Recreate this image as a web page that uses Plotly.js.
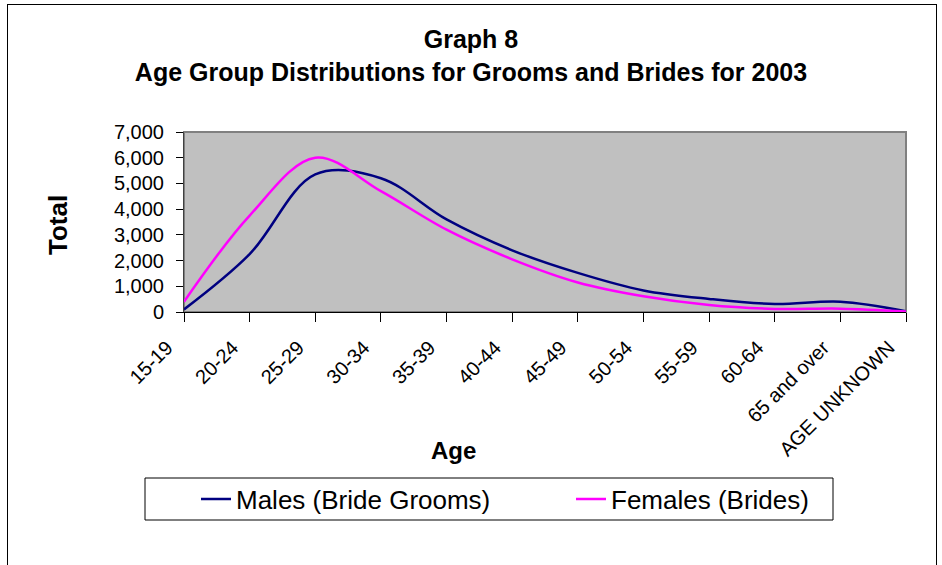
<!DOCTYPE html>
<html>
<head>
<meta charset="utf-8">
<script src="https://cdn.plot.ly/plotly-3.0.1.min.js"></script>
<style>
    body { margin: 0; background: #fff; }
    #frame { position: absolute; left: 7px; top: 4px; width: 928px; height: 600px; border: 1px solid #000; }
    #ageChart { position: absolute; left: 0; top: 0; width: 942px; height: 565px; }
</style>
</head>
<body>
<div id="frame"></div>
<div id="ageChart"></div>
<script>
// age groups and counts
const ageGroups = ['15-19','20-24','25-29','30-34','35-39','40-44','45-49','50-54','55-59','60-64','65 and over','AGE UNKNOWN'];
const males = [100, 2250, 5350, 5200, 3600, 2400, 1520, 840, 510, 310, 400, 30];
const females = [400, 3750, 6000, 4700, 3200, 2050, 1150, 610, 270, 120, 130, 20];

AGECHART = document.getElementById('ageChart');

// plot area in pixels: left 184, right 906, top 132, bottom 312
function px(x){ return (x - 184) / 722; }
function py(y){ return (312 - y) / 180; }

var maleTrace = {
    x: ageGroups,
    y: males,
    name: 'Males (Bride Grooms)',
    mode: 'lines',
    legend: 'legend',
    line: {
        color: '#000080',
        width: 2.5,
        shape: 'spline',
        smoothing: 1,
    }
};

var femaleTrace = {
    x: ageGroups,
    y: females,
    name: 'Females (Brides)',
    mode: 'lines',
    legend: 'legend2',
    line: {
        color: '#FF00FF',
        width: 2.5,
        shape: 'spline',
        smoothing: 1,
    }
};

// one legend per series so both entries sit where the original puts them
function legendAt(left){
    return {
        orientation: 'h',
        xref: 'container',
        x: left / 942,
        xanchor: 'left',
        yref: 'container',
        y: 1 - 499 / 565,
        yanchor: 'middle',
        font: {size: 26},
        bgcolor: 'rgba(0,0,0,0)',
        borderwidth: 0,
    };
}

var layout = {
    width: 942,
    height: 565,
    paper_bgcolor: 'rgba(0,0,0,0)',
    plot_bgcolor: '#C0C0C0',
    font: {
        family: 'Liberation Sans, Arial, sans-serif',
        color: '#000',
    },
    title: {
        text: '<b>Graph 8</b><br><b>Age Group Distributions for Grooms and Brides for 2003</b>',
        font: {size: 25},
        x: 0.5,
        xref: 'container',
        y: 1 - 48/565,
        yref: 'container',
        yanchor: 'middle',
    },
    margin: {l: 184, r: 36, t: 132, b: 253},
    xaxis: {
        type: 'category',
        range: [0, 11],
        tickangle: -45,
        tickfont: {size: 20},
        ticks: 'outside',
        ticklen: 9,
        tickcolor: '#000',
        ticklabelstandoff: 6,
        ticklabelshift: -17,
        showline: true,
        linecolor: '#000',
        linewidth: 1,
        showgrid: false,
        zeroline: false,
    },
    yaxis: {
        range: [0, 7000],
        dtick: 1000,
        tickformat: ',',
        tickfont: {size: 20},
        ticks: 'outside',
        ticklen: 7,
        tickcolor: '#000',
        ticklabelstandoff: 8,
        showline: true,
        linecolor: '#404040',
        showgrid: false,
        zeroline: false,
    },
    shapes: [{
        // grey border round the plot area
        type: 'rect',
        xref: 'paper', yref: 'paper',
        x0: 0, x1: 1, y0: 0, y1: 1,
        line: {color: '#808080', width: 2},
        layer: 'below',
    }, {
        // legend box
        type: 'rect',
        xref: 'paper', yref: 'paper',
        x0: px(145), x1: px(833), y0: py(478), y1: py(520),
        line: {color: '#000', width: 1},
        fillcolor: '#fff',
        layer: 'below',
    }],
    annotations: [{
        text: '<b>Total</b>',
        font: {size: 26},
        textangle: -90,
        xref: 'paper', yref: 'paper',
        x: px(58), y: py(225),
        showarrow: false,
        xanchor: 'center', yanchor: 'middle',
    }, {
        text: '<b>Age</b>',
        font: {size: 24},
        xref: 'paper', yref: 'paper',
        x: px(453), y: py(450),
        showarrow: false,
        xanchor: 'center', yanchor: 'middle',
    }],
    showlegend: true,
    legend: legendAt(196),
    legend2: legendAt(571),
};

var config = {
    displayModeBar: false,
    staticPlot: true,
};

Plotly.newPlot(AGECHART, [maleTrace, femaleTrace], layout, config);
</script>
</body>
</html>
